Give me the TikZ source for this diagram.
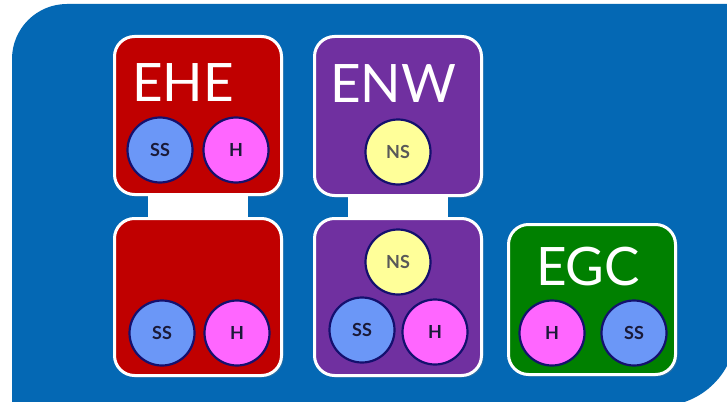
\documentclass[tikz,border=0pt]{standalone}
\usepackage{fontspec}
\setmainfont{Lato}
\usetikzlibrary{shadows}
\definecolor{bgblue}{HTML}{0468B4}
\definecolor{ehered}{HTML}{C00000}
\definecolor{enwpurple}{HTML}{7030A0}
\definecolor{egcgreen}{HTML}{008000}
\definecolor{ssblue}{HTML}{6B97F7}
\definecolor{hpink}{HTML}{FF66FF}
\definecolor{nsyellow}{HTML}{FFFF99}
\definecolor{rimnavy}{HTML}{14106E}
\definecolor{labeltext}{HTML}{1A1A38}
\begin{document}
\begin{tikzpicture}[x=1pt,y=-1pt,
  box/.style={draw=white, line width=3pt, rounded corners=20pt, minimum width=167pt, inner sep=0pt,
    drop shadow={opacity=0.3, shadow xshift=2pt, shadow yshift=-2pt}},
  linkbar/.style={fill=white, minimum width=100pt, minimum height=34pt, inner sep=0pt},
  title/.style={text=white, font=\fontsize{53}{53}\selectfont, inner sep=0pt},
  ball/.style={circle, draw=rimnavy, line width=2.2pt, minimum size=65pt, inner sep=0pt, text=labeltext, font=\bfseries\fontsize{18}{18}\selectfont}
]
\useasboundingbox (0,0) rectangle (727,401);
\clip (0,0) rectangle (727,401);
\fill[white] (0,0) rectangle (727,401);
\fill[bgblue] (12,406) -- (12,59) .. controls (12,28.6) and (36.6,4) .. (67,4)
  -- (736,4) -- (736,330) .. controls (736,372) and (702,406) .. (660,406) -- cycle;

% link bars
\node[linkbar] (linkehe) at (198,206) {};
\node[linkbar] (linkenw) at (398,206) {};

% boxes
\node[box, fill=ehered, minimum height=158pt] (ehetop) at (198,115.5) {};
\node[box, fill=ehered, minimum height=157pt] (ehebot) at (198,297) {};
\node[box, fill=enwpurple, minimum height=159pt] (enwtop) at (398,116) {};
\node[box, fill=enwpurple, minimum height=157pt] (enwbot) at (398,297) {};
\node[box, fill=egcgreen, minimum height=150pt] (egc) at (592,299.5) {};
\node[linkbar, minimum height=20pt] (linkehemid) at (198,206) {};
\node[linkbar, minimum height=20pt] (linkenwmid) at (398,206) {};

% titles
\node[title] (tehe) at (183,83) {EHE};
\node[title] (tenw) at (393,84) {ENW};
\node[title] (tegc) at (588,267) {EGC};

% balls
\node[ball, fill=ssblue] (ss1) at (160,150) {SS};
\node[ball, fill=hpink] (h1) at (236,150) {H};
\node[ball, fill=ssblue] (ss2) at (162,333) {SS};
\node[ball, fill=hpink] (h2) at (237,333) {H};
\node[ball, fill=nsyellow, text=black!65] (ns1) at (398,152) {NS};
\node[ball, fill=nsyellow, text=black!65] (ns2) at (398,262) {NS};
\node[ball, fill=ssblue] (ss3) at (362,330) {SS};
\node[ball, fill=hpink] (h3) at (435,332) {H};
\node[ball, fill=hpink] (h4) at (552,333) {H};
\node[ball, fill=ssblue] (ss4) at (634,333) {SS};
\end{tikzpicture}
\end{document}
